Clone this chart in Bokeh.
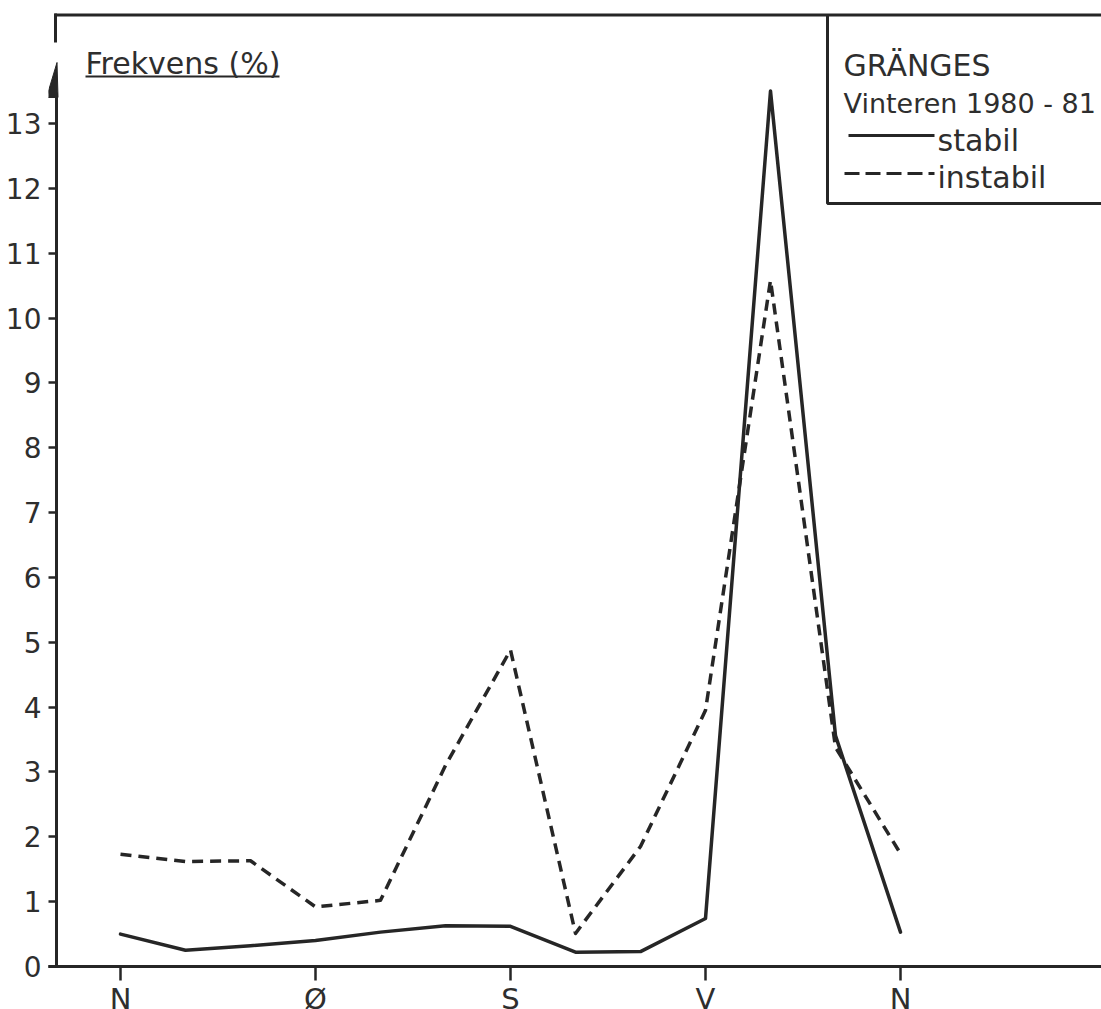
from bokeh.plotting import figure
from bokeh.models import Range1d, FixedTicker, Label
from bokeh.embed import file_html
from bokeh.resources import INLINE

# ---- data ----
sector_deg = [0, 30, 60, 90, 120, 150, 180, 210, 240, 270, 300, 330, 360]
stabil = [0.50, 0.25, 0.32, 0.40, 0.53, 0.63, 0.62, 0.22, 0.23, 0.74, 13.5, 3.56, 0.53]
instabil = [1.73, 1.62, 1.63, 0.92, 1.02, 3.10, 4.88, 0.51, 1.85, 3.95, 10.58, 3.38, 1.74]
dir_labels = ["N", "Ø", "S", "V", "N"]
dir_deg = [0, 90, 180, 270, 360]
y_ticks = list(range(0, 14))

FONT = "DejaVu Sans"
INK = "#262626"
TXT = "#2e2e2e"

# page pixel helpers for decorations (frame: x 48..1101, y 12..1009)
PX_PER_DEG = 65 / 30
PX_PER_UNIT = 64.85
def X(px):
    return (px - 120) / PX_PER_DEG
def Y(py):
    return (966 - py) / PX_PER_UNIT

W, H = 1101, 1009
p = figure(width=W, height=H, output_backend="svg", toolbar_location=None,
           x_range=Range1d(X(48), X(1101)), y_range=Range1d(Y(1009), Y(12)),
           min_border_left=48, min_border_right=0, min_border_top=12, min_border_bottom=0)
p.outline_line_color = None
p.grid.visible = False
p.background_fill_color = "white"
p.border_fill_color = "white"

# x axis, drawn at y = 0
xa = p.xaxis[0]
xa.fixed_location = 0
xa.ticker = FixedTicker(ticks=dir_deg)
xa.major_label_overrides = {d: lab for d, lab in zip(dir_deg, dir_labels)}
xa.minor_tick_line_color = None
xa.major_tick_out = 14
xa.major_tick_in = 0
xa.major_tick_line_width = 2.5
xa.major_tick_line_color = INK
xa.axis_line_width = 3
xa.axis_line_color = INK
xa.major_label_text_font = FONT
xa.major_label_text_font_size = "29px"
xa.major_label_text_color = TXT
xa.major_label_standoff = 1

# y axis
ya = p.yaxis[0]
ya.ticker = FixedTicker(ticks=y_ticks)
ya.minor_tick_line_color = None
ya.axis_line_color = None
ya.major_tick_out = 0
ya.major_tick_in = 8
ya.major_tick_line_width = 2.5
ya.major_tick_line_color = INK
ya.major_label_text_font = FONT
ya.major_label_text_font_size = "28px"
ya.major_label_text_color = TXT
ya.major_label_standoff = 7

# axis line stub left of the y axis, y axis line with arrow head, frame pieces
p.line([X(43), X(49)], [0, 0], line_width=3, line_color=INK)
p.line([X(56), X(56)], [0, Y(92)], line_width=3, line_color=INK)
p.patch([X(56.5), X(46), X(57.5)], [Y(62), Y(97), Y(97)], fill_color=INK, line_color=INK, line_width=1)
p.line([X(55), X(55)], [Y(13), Y(42)], line_width=3, line_color=INK)
p.line([X(54), X(1101)], [Y(14.5), Y(14.5)], line_width=3, line_color=INK)

# data lines
p.line(sector_deg, stabil, line_width=3.5, line_color=INK, line_join="round", line_cap="round")
p.line(sector_deg, instabil, line_width=3.5, line_color=INK, line_dash="11 7", line_join="round")

# y label
p.add_layout(Label(x=X(85), y=Y(63), text="Frekvens (%)", text_baseline="alphabetic",
                   text_font=FONT, text_font_size="30px", text_color=TXT))
p.line([X(85), X(279)], [Y(76), Y(76)], line_width=2, line_color=INK)

# legend box
p.line([X(827), X(827), X(1101)], [Y(14), Y(203), Y(203)], line_width=3, line_color=INK)
p.add_layout(Label(x=X(843), y=Y(65), text="GRÄNGES", text_baseline="alphabetic",
                   text_font=FONT, text_font_size="30px", text_color=TXT))
p.add_layout(Label(x=X(843), y=Y(103), text="Vinteren 1980 - 81", text_baseline="alphabetic",
                   text_font=FONT, text_font_size="27px", text_color=TXT))
p.line([X(848), X(934)], [Y(135), Y(135)], line_width=3, line_color=INK)
p.add_layout(Label(x=X(937), y=Y(140), text="stabil", text_baseline="alphabetic",
                   text_font=FONT, text_font_size="30px", text_color=TXT))
p.line([X(844), X(934)], [Y(173), Y(173)], line_width=3, line_color=INK, line_dash="15 6")
p.add_layout(Label(x=X(937), y=Y(177), text="instabil", text_baseline="alphabetic",
                   text_font=FONT, text_font_size="30px", text_color=TXT))

open("out.html", "w").write(file_html(p, INLINE))
